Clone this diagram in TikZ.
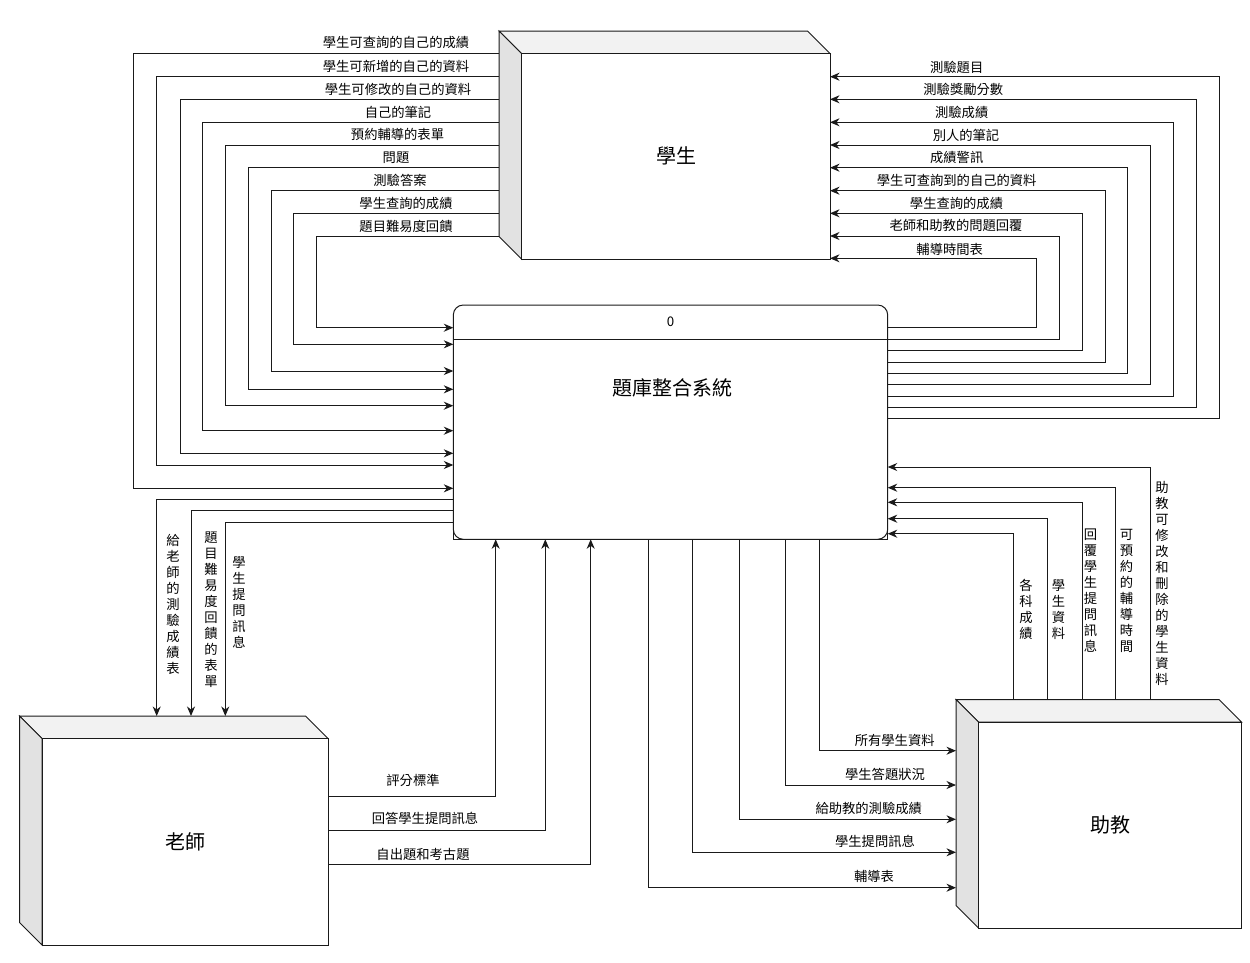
\documentclass[tikz,border=0pt]{standalone}
\usepackage{fontspec}
\setmainfont{Noto Sans CJK TC}
\usetikzlibrary{arrows.meta,calc}
\newlength{\cubedepth}
\setlength{\cubedepth}{22.5pt}
\definecolor{cubetop}{HTML}{F2F2F2}
\definecolor{cubeside}{HTML}{E2E2E2}
\definecolor{linec}{HTML}{1A1A1A}
\newcommand{\drawcube}[1]{%
  \draw[cubeline, fill=cubetop] (#1.north west) -- ([xshift=-\cubedepth]#1.north east) -- ([yshift=-\cubedepth]#1.north east) -- ([xshift=\cubedepth,yshift=-\cubedepth]#1.north west) -- cycle;
  \draw[cubeline, fill=cubeside] (#1.north west) -- ([xshift=\cubedepth,yshift=-\cubedepth]#1.north west) -- ([xshift=\cubedepth]#1.south west) -- ([yshift=\cubedepth]#1.south west) -- cycle;
  \draw[cubeline, fill=white] ([xshift=\cubedepth,yshift=-\cubedepth]#1.north west) rectangle (#1.south east);
}
\begin{document}
\begin{tikzpicture}[x=1pt,y=-1pt,
  cubeline/.style={draw=linec, line width=1pt, line join=miter},
  box/.style={inner sep=0pt, outer sep=0pt},
  arr/.style={draw=linec, line width=1pt, -{Stealth[length=9.5pt,width=8pt,inset=3pt]}},
  lbl/.style={font=\fontsize{13.3}{16}\selectfont, inner sep=0pt},
  vlbl/.style={font=\fontsize{13.3}{16}\selectfont, inner sep=0pt, align=center},
  big/.style={font=\fontsize{20}{24}\selectfont, inner sep=0pt}]
\useasboundingbox (0,0) rectangle (1250,962);

% ---- entity boxes ----
\node[box, minimum width=331pt, minimum height=228pt] (stu) at (664.5,145) {};
\node[box, minimum width=308.5pt, minimum height=229pt] (tea) at (173.75,830.5) {};
\node[box, minimum width=285.5pt, minimum height=228.5pt] (ast) at (1098.75,813.75) {};
\drawcube{stu}
\drawcube{tea}
\drawcube{ast}
\node[big] (stulbl) at (676,156) {學生};
\node[big] (tealbl) at (185,842) {老師};
\node[big] (astlbl) at (1110,825) {助教};

% ---- process ----
\node[box, draw=linec, line width=1pt, rounded corners=10pt, minimum width=434.4pt, minimum height=234.3pt] (sys) at (670.5,422.15) {};
\draw[cubeline] ([yshift=12pt]sys.south west) -- (sys.south west) -- (sys.south east) -- ([yshift=12pt]sys.south east);
\draw[cubeline] (sys.west |- 0,339) -- (sys.east |- 0,339);
\node[lbl] (sysid) at (670.5,322) {0};
\node[big] (systitle) at (672,387.5) {題庫整合系統};

% ---- student -> system ----
\draw[arr] (stu.west |- 0,53.3) -| (133.3,488.3) -- (sys.west |- 0,488.3);
\draw[arr] (stu.west |- 0,76.7) -| (156.7,465) -- (sys.west |- 0,465);
\draw[arr] (stu.west |- 0,99.3) -| (180,453.3) -- (sys.west |- 0,453.3);
\draw[arr] (stu.west |- 0,122.3) -| (202.3,430.7) -- (sys.west |- 0,430.7);
\draw[arr] (stu.west |- 0,145) -| (225.3,405.7) -- (sys.west |- 0,405.7);
\draw[arr] (stu.west |- 0,167.3) -| (248.3,389.3) -- (sys.west |- 0,389.3);
\draw[arr] (stu.west |- 0,190.7) -| (271,371) -- (sys.west |- 0,371);
\draw[arr] (stu.west |- 0,213.3) -| (293.7,344.3) -- (sys.west |- 0,344.3);
\draw[arr] (stu.west |- 0,236) -| (316.7,327.7) -- (sys.west |- 0,327.7);
\node[lbl] at (396,42.7) {學生可查詢的自己的成績};
\node[lbl] at (396,66.2) {學生可新增的自己的資料};
\node[lbl] at (398,89) {學生可修改的自己的資料};
\node[lbl] at (398,112) {自己的筆記};
\node[lbl] at (397.5,134.7) {預約輔導的表單};
\node[lbl] at (396,157.3) {問題};
\node[lbl] at (400,180.5) {測驗答案};
\node[lbl] at (406,203.3) {學生查詢的成績};
\node[lbl] at (406,226) {題目難易度回饋};

% ---- system -> student ----
\draw[arr] (sys.east |- 0,418.7) -| (1219,76.7) -- (stu.east |- 0,76.7);
\draw[arr] (sys.east |- 0,407.3) -| (1196.7,99.3) -- (stu.east |- 0,99.3);
\draw[arr] (sys.east |- 0,396) -| (1173.3,122.3) -- (stu.east |- 0,122.3);
\draw[arr] (sys.east |- 0,384.7) -| (1150.7,145) -- (stu.east |- 0,145);
\draw[arr] (sys.east |- 0,373.3) -| (1127.3,167.7) -- (stu.east |- 0,167.7);
\draw[arr] (sys.east |- 0,362) -| (1105,190.7) -- (stu.east |- 0,190.7);
\draw[arr] (sys.east |- 0,350.7) -| (1082.3,213.3) -- (stu.east |- 0,213.3);
\draw[arr] (sys.east |- 0,339) -| (1059.3,236) -- (stu.east |- 0,236);
\draw[arr] (sys.east |- 0,327.7) -| (1036.7,258.3) -- (stu.east |- 0,258.3);
\node[lbl] at (956.7,67.2) {測驗題目};
\node[lbl] at (963.3,89.8) {測驗獎勵分數};
\node[lbl] at (961.7,112.8) {測驗成績};
\node[lbl] at (966,135.2) {別人的筆記};
\node[lbl] at (956.7,157.8) {成績警訊};
\node[lbl] at (956.7,180.7) {學生可查詢到的自己的資料};
\node[lbl] at (956.5,203) {學生查詢的成績};
\node[lbl] at (956,225.5) {老師和助教的問題回覆};
\node[lbl] at (949.7,249.5) {輔導時間表};

% ---- system -> teacher ----
\draw[arr] (sys.west |- 0,499.3) -| (tea.north -| 156.7,0);
\draw[arr] (sys.west |- 0,510.7) -| (tea.north -| 191,0);
\draw[arr] (sys.west |- 0,522.3) -| (tea.north -| 225.3,0);
\node[vlbl] at (173,604) {給\\老\\師\\的\\測\\驗\\成\\績\\表};
\node[vlbl] at (211,610) {題\\目\\難\\易\\度\\回\\饋\\的\\表\\單};
\node[vlbl] at (239,602) {學\\生\\提\\問\\訊\\息};

% ---- teacher -> system ----
\draw[arr] (tea.east |- 0,796) -| (sys.south -| 495.7,0);
\draw[arr] (tea.east |- 0,830.7) -| (sys.south -| 545.3,0);
\draw[arr] (tea.east |- 0,864.3) -| (sys.south -| 590.7,0);
\node[lbl] at (413,780.5) {評分標準};
\node[lbl] at (425,818) {回答學生提問訊息};
\node[lbl] at (423,854.5) {自出題和考古題};

% ---- system -> assistant ----
\draw[arr] (sys.south -| 819.3,0) |- (ast.west |- 0,750.7);
\draw[arr] (sys.south -| 785,0) |- (ast.west |- 0,785);
\draw[arr] (sys.south -| 739.3,0) |- (ast.west |- 0,819.3);
\draw[arr] (sys.south -| 692.7,0) |- (ast.west |- 0,852.3);
\draw[arr] (sys.south -| 648,0) |- (ast.west |- 0,887.7);
\node[lbl] at (894.7,740.2) {所有學生資料};
\node[lbl] at (885,774.5) {學生答題狀況};
\node[lbl] at (868.7,808) {給助教的測驗成績};
\node[lbl] at (875,841.5) {學生提問訊息};
\node[lbl] at (874,876.5) {輔導表};

% ---- assistant -> system ----
\draw[arr] (ast.north -| 1013.3,0) |- (sys.east |- 0,533.7);
\draw[arr] (ast.north -| 1047.3,0) |- (sys.east |- 0,518.7);
\draw[arr] (ast.north -| 1082.3,0) |- (sys.east |- 0,502.3);
\draw[arr] (ast.north -| 1115,0) |- (sys.east |- 0,487.7);
\draw[arr] (ast.north -| 1150.7,0) |- (sys.east |- 0,467);
\node[vlbl] at (1026,609) {各\\科\\成\\績};
\node[vlbl] at (1058.5,609) {學\\生\\資\\料};
\node[vlbl] at (1090.5,590.5) {回\\覆\\學\\生\\提\\問\\訊\\息};
\node[vlbl] at (1126.5,590.5) {可\\預\\約\\的\\輔\\導\\時\\間};
\node[vlbl] at (1162,583) {助\\教\\可\\修\\改\\和\\刪\\除\\的\\學\\生\\資\\料};
\end{tikzpicture}
\end{document}
